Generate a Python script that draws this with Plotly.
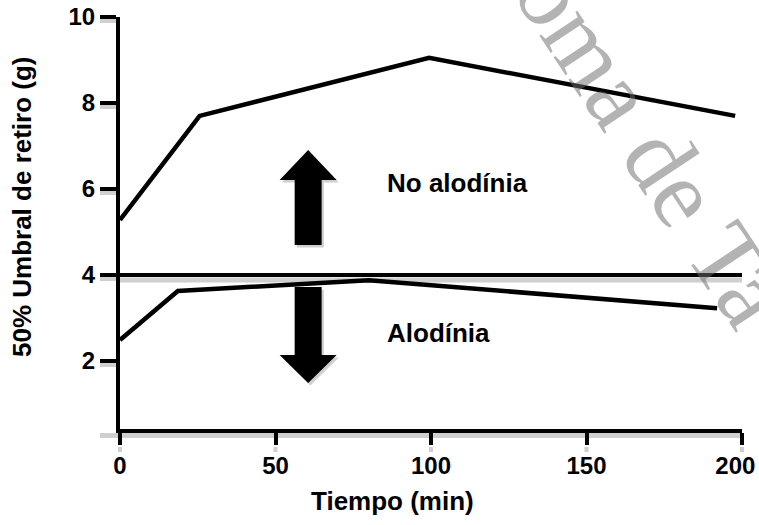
import plotly.graph_objects as go

# ---------------- data ----------------
time_upper = [0, 25.6, 99.4, 197.8]
umbral_upper = [5.28, 7.70, 9.05, 7.70]
time_lower = [0, 18.6, 80.0, 192.0]
umbral_lower = [2.49, 3.63, 3.88, 3.23]
THRESHOLD = 4
x_ticks = [0, 50, 100, 150, 200]
y_ticks = [2, 4, 6, 8, 10]
label_up = "No alodínia"
label_down = "Alodínia"
x_title = "Tiempo (min)"
y_title = "50% Umbral de retiro (g)"

# ---------------- geometry / style ----------------
W, H = 759, 525
ML, MR, MT, MB = 120, 17, 17, 96
PW, PH = W - ML - MR, H - MT - MB
XR = [0, 200]
YR = [0.42, 10]
Y_AXIS_FOOT = 0.37  # hidden tick so the x-axis line extends left like a tick
FONT = "Liberation Sans, Arial, sans-serif"
SHADOW = "#cfcfcf"


def px_x(px):
    return px / PW


def px_y(px):
    return px / PH


def paper_y(v):
    return (v - YR[0]) / (YR[1] - YR[0])


def paper_x(v):
    return (v - XR[0]) / (XR[1] - XR[0])


fig = go.Figure()

# threshold shadow + line
fig.add_trace(go.Scatter(x=[XR[0], XR[1]], y=[THRESHOLD - 5 / 43.0] * 2, mode="lines",
                         line=dict(color=SHADOW, width=5), hoverinfo="skip", showlegend=False))
fig.add_trace(go.Scatter(x=[XR[0], XR[1]], y=[THRESHOLD] * 2, mode="lines",
                         line=dict(color="black", width=4), hoverinfo="skip", showlegend=False))

fig.add_trace(go.Scatter(x=time_upper, y=umbral_upper, mode="lines",
                         line=dict(color="black", width=4.5), showlegend=False))
fig.add_trace(go.Scatter(x=time_lower, y=umbral_lower, mode="lines",
                         line=dict(color="black", width=4.5), showlegend=False))

shapes = []


def arrow_path(cx, y_from, y_base, y_tip, hw, HW, dx=0.0, dy=0.0):
    pts = [(cx - hw, y_from), (cx + hw, y_from), (cx + hw, y_base), (cx + HW, y_base),
           (cx, y_tip), (cx - HW, y_base), (cx - hw, y_base)]
    return "M " + " L ".join(f"{x + dx},{y + dy}" for x, y in pts) + " Z"


AX = 60.5
for (y_from, y_base, y_tip) in [(4.70, 6.21, 6.91), (3.72, 2.14, 1.49)]:
    shapes.append(dict(type="path", xref="x", yref="y",
                       path=arrow_path(AX, y_from, y_base, y_tip, 4.34, 9.16, dx=0.7, dy=-0.06),
                       fillcolor=SHADOW, line=dict(width=0), layer="below"))
    shapes.append(dict(type="path", xref="x", yref="y",
                       path=arrow_path(AX, y_from, y_base, y_tip, 4.34, 9.16),
                       fillcolor="black", line=dict(width=0), layer="above"))

# axis shadows (x-axis line, y ticks, x ticks)
shapes.append(dict(type="line", xref="paper", yref="paper",
                   x0=-px_x(20), x1=1 + px_x(2), y0=-px_y(6.5), y1=-px_y(6.5),
                   line=dict(color=SHADOW, width=5), layer="below"))
for v in y_ticks:
    yy = paper_y(v) - px_y(4)
    shapes.append(dict(type="line", xref="paper", yref="paper",
                       x0=-px_x(20), x1=-px_x(4), y0=yy, y1=yy,
                       line=dict(color=SHADOW, width=4), layer="below"))
for v in x_ticks:
    xx = paper_x(v)
    shapes.append(dict(type="line", xref="paper", yref="paper",
                       x0=xx, x1=xx, y0=-px_y(18), y1=-px_y(23),
                       line=dict(color=SHADOW, width=4), layer="below"))

annotations = [
    dict(x=85.2, y=6.14, xref="x", yref="y", text=label_up, showarrow=False,
         xanchor="left", yanchor="middle", font=dict(family=FONT, size=26, color="black", weight="bold")),
    dict(x=85.2, y=2.65, xref="x", yref="y", text=label_down, showarrow=False,
         xanchor="left", yanchor="middle", font=dict(family=FONT, size=26, color="black", weight="bold")),
    dict(x=(392.5 - ML) / PW, y=-(501 - (MT + PH)) / PH, xref="paper", yref="paper", text=x_title,
         showarrow=False, xanchor="center", yanchor="middle",
         font=dict(family=FONT, size=26, color="black", weight="bold")),
    dict(x=(22 - ML) / PW, y=((MT + PH) - 207) / PH, xref="paper", yref="paper", text=y_title,
         textangle=-90, showarrow=False, xanchor="center", yanchor="middle",
         font=dict(family=FONT, size=26, color="black", weight="bold")),
    # watermark
    dict(x=(652 - ML) / PW, y=((MT + PH) - 144) / PH, xref="paper", yref="paper",
         text="oma de Ta", textangle=56.5, showarrow=False, xanchor="center", yanchor="middle",
         font=dict(family="Liberation Serif, Times New Roman, serif", size=99,
                   color="rgba(110,110,110,0.52)")),
]

# last x label nudged left so it stays inside the page, as in the reference
x_ticktext = [str(v) for v in x_ticks]
x_ticktext[-1] = x_ticktext[-1] + "\u00a0\u00a0"

fig.update_layout(
    width=W, height=H,
    margin=dict(l=ML, r=MR, t=MT, b=MB, pad=0),
    paper_bgcolor="white", plot_bgcolor="rgba(0,0,0,0)",
    shapes=shapes, annotations=annotations, showlegend=False,
    xaxis=dict(range=XR, tickvals=x_ticks, ticktext=x_ticktext,
               showgrid=False, zeroline=False, showline=True, linecolor="black", linewidth=4,
               ticks="outside", ticklen=12, tickwidth=4, tickcolor="black", automargin=False,
               ticklabeloverflow="allow",
               tickfont=dict(family=FONT, size=24, color="black", weight="bold")),
    yaxis=dict(range=YR, tickvals=[Y_AXIS_FOOT] + y_ticks, ticktext=[""] + [str(v) for v in y_ticks],
               showgrid=False, zeroline=False, showline=True, linecolor="black", linewidth=4,
               ticks="outside", ticklen=16, tickwidth=4, tickcolor="black", automargin=False,
               tickfont=dict(family=FONT, size=24, color="black", weight="bold")),
)

fig.write_html("out.html", config={"displayModeBar": False},
               post_script="document.body.style.margin='0';document.body.style.padding='0';")
